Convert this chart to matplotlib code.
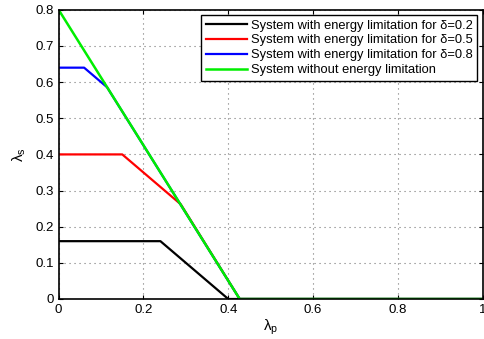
import matplotlib
matplotlib.use('Agg')
import matplotlib.pyplot as plt

plt.rcParams.update({'font.size': 9.3, 'font.family': ['Liberation Sans', 'DejaVu Sans'],
                     'mathtext.fontset': 'custom', 'mathtext.rm': 'Liberation Sans',
                     'mathtext.it': 'Liberation Sans'})

# breakpoints (lambda_p, lambda_s)
x_d02 = [0, 0.24, 0.40, 1.0]
y_d02 = [0.16, 0.16, 0.0, 0.0]
x_d05 = [0, 0.15, 0.288, 0.427, 1.0]
y_d05 = [0.40, 0.40, 0.262, 0.0, 0.0]
x_d08 = [0, 0.06, 0.114, 0.427, 1.0]
y_d08 = [0.64, 0.64, 0.586, 0.0, 0.0]
x_none = [0, 0.427, 1.0]
y_none = [0.80, 0.0, 0.0]

labels = ['System with energy limitation for \u03b4=0.2',
          'System with energy limitation for \u03b4=0.5',
          'System with energy limitation for \u03b4=0.8',
          'System without energy limitation']

fig = plt.figure(figsize=(4.85, 3.39), dpi=100)
ax = fig.add_axes([0.121, 0.118, 0.874, 0.853])

ax.plot(x_d02, y_d02, color='black', lw=1.6, label=labels[0])
ax.plot(x_d05, y_d05, color='#ff0000', lw=1.6, label=labels[1])
ax.plot(x_d08, y_d08, color='#0000ff', lw=1.6, label=labels[2])
ax.plot(x_none, y_none, color='#00ee00', lw=1.8, label=labels[3])

ax.set_xlim(0, 1)
ax.set_ylim(0, 0.8)
ax.set_xticks([0, 0.2, 0.4, 0.6, 0.8, 1])
ax.set_xticklabels(['0', '0.2', '0.4', '0.6', '0.8', '1'])
ax.set_yticks([0, 0.1, 0.2, 0.3, 0.4, 0.5, 0.6, 0.7, 0.8])
ax.set_yticklabels(['0', '0.1', '0.2', '0.3', '0.4', '0.5', '0.6', '0.7', '0.8'])
ax.tick_params(direction='in', length=3, width=0.8, top=True, right=True, labelsize=9.5)
ax.grid(True, linestyle=(0, (1, 3.5)), color='#777777', linewidth=0.8)
for s in ax.spines.values():
    s.set_linewidth(1.2)

ax.set_xlabel(r'$\lambda_p$', labelpad=1, fontsize=11)
ax.set_ylabel(r'$\lambda_s$', labelpad=5, fontsize=11)

leg = ax.legend(loc='upper right', frameon=True, fancybox=False, edgecolor='black',
                handlelength=3.2, handletextpad=0.3, borderpad=0.35, labelspacing=0.22,
                borderaxespad=0.4, framealpha=1)
leg.get_frame().set_linewidth(1.0)

plt.savefig('out.png', dpi=100)
